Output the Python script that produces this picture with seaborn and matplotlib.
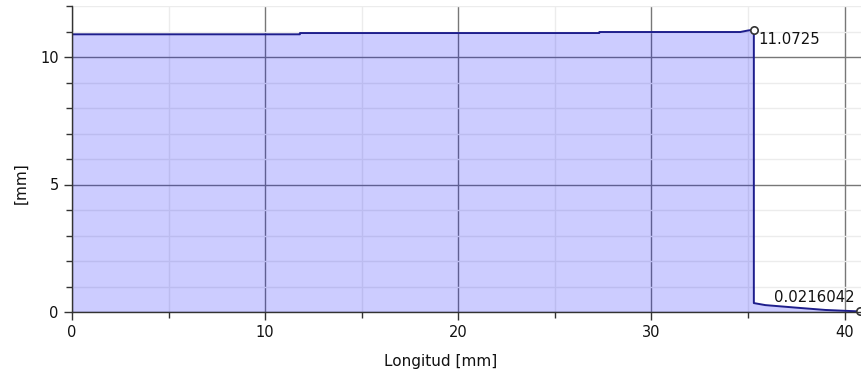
import matplotlib
matplotlib.use("Agg")
import matplotlib.pyplot as plt
from matplotlib.ticker import MultipleLocator
import pandas as pd
import seaborn as sns

# Profile along the part: position [mm] and measured height [mm]
longitud = [0.0, 11.8, 11.8, 27.3, 27.3, 34.6, 35.0, 35.3, 35.3, 35.9, 37.5, 39.0, 40.8]
altura = [10.89, 10.89, 10.94, 10.94, 10.98, 10.98, 11.04, 11.0725,
          0.35, 0.27, 0.17, 0.08, 0.0216042]

# Labelled points (max before the drop, end value)
etiqueta_x = [35.3, 40.8]
etiqueta_y = [11.0725, 0.0216042]
etiqueta_txt = ["11.0725", "0.0216042"]

df = pd.DataFrame({"x": longitud, "y": altura})

sns.set_style("white")
plt.rcParams["font.family"] = ["DejaVu Sans"]

fig = plt.figure(figsize=(8.62, 3.73), dpi=100)
ax = fig.add_axes([72 / 862, 1 - 312 / 373, 1 - 72 / 862, (312 - 6) / 373])

# grid sits underneath the translucent area fill
ax.set_axisbelow(True)
ax.grid(which="major", color="#777777", lw=1.0, zorder=0)
ax.grid(which="minor", color="#ececec", lw=1.0, zorder=0)

ax.fill_between(df["x"], df["y"], 0, color="#0000ff", alpha=0.2, lw=0, zorder=1)
sns.lineplot(data=df, x="x", y="y", ax=ax, color="#1e1e8c", lw=1.4,
             sort=False, estimator=None, zorder=4)
sns.scatterplot(x=etiqueta_x, y=etiqueta_y, ax=ax, s=28, facecolor="white",
                edgecolor="#333333", linewidth=1.2, zorder=5, clip_on=False)

ax.text(35.55, etiqueta_y[0] - 0.1, etiqueta_txt[0], ha="left", va="top",
        fontsize=10.7, color="#111111", zorder=6)
ax.text(40.5, 0.28, etiqueta_txt[1], ha="right", va="bottom",
        fontsize=10.7, color="#111111", zorder=6)

ax.set_xlim(0, 40.9)
ax.set_ylim(0, 12)
ax.xaxis.set_major_locator(MultipleLocator(10))
ax.xaxis.set_minor_locator(MultipleLocator(5))
ax.yaxis.set_major_locator(MultipleLocator(5))
ax.yaxis.set_minor_locator(MultipleLocator(1))

for s in ["top", "right"]:
    ax.spines[s].set_visible(False)
for s in ["left", "bottom"]:
    ax.spines[s].set_color("#333333")
    ax.spines[s].set_linewidth(1.0)
    ax.spines[s].set_zorder(6)

ax.tick_params(which="major", direction="out", length=6, width=1.0,
               color="#333333", labelsize=10.5, labelcolor="#111111")
ax.tick_params(which="minor", direction="out", length=4, width=1.0,
               color="#333333")
ax.tick_params(axis="both", which="both", left=True, bottom=True)

ax.set_xlabel("Longitud [mm]", fontsize=11, color="#111111", va="center")
ax.xaxis.set_label_coords(0.467, -0.163)
ax.set_ylabel("[mm]", fontsize=11, color="#111111", va="center")
ax.yaxis.set_label_coords(-0.064, 0.42)

fig.savefig("out.png", dpi=100)
